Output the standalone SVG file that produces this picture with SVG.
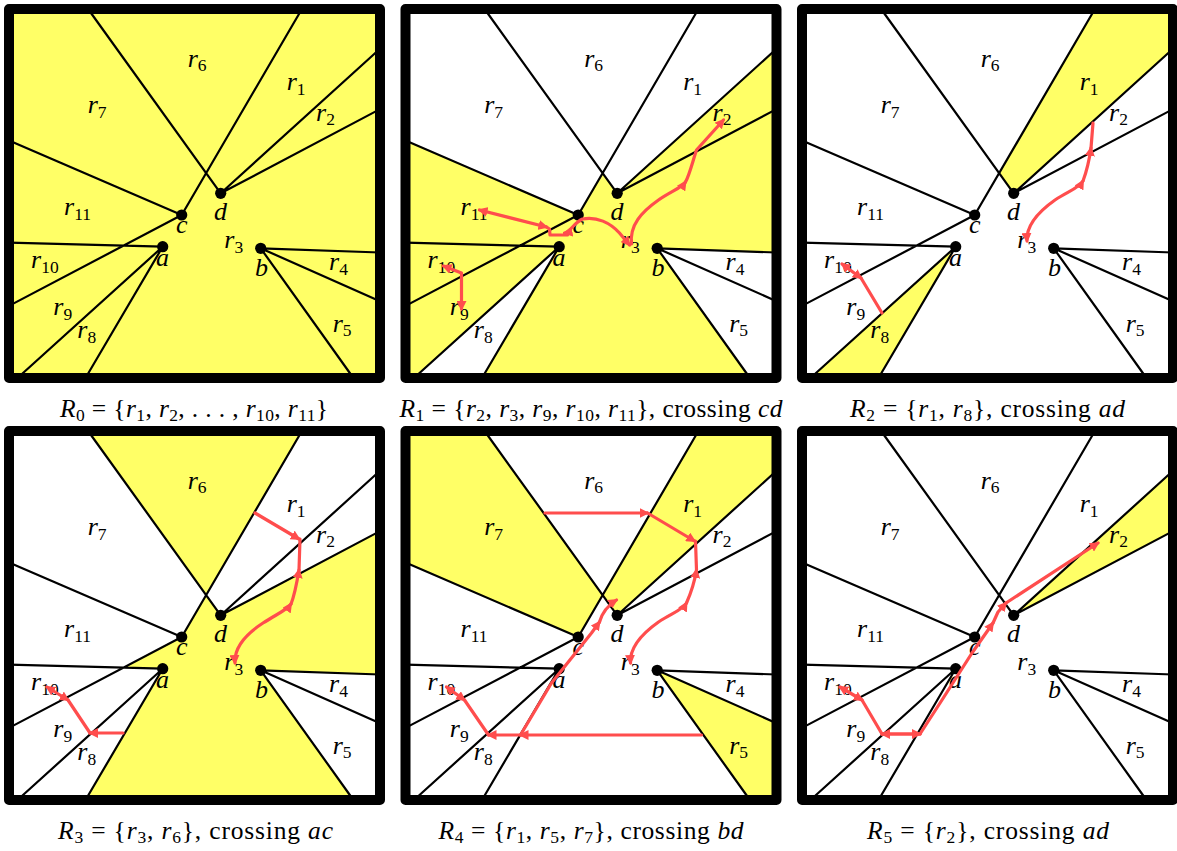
<svg xmlns="http://www.w3.org/2000/svg" width="1177" height="851" viewBox="0 0 1177 851">
<defs>
<style>
.ln{fill:none;stroke:#000;stroke-width:2.2;stroke-linecap:butt}
.fr{fill:none;stroke:#000;stroke-width:10;stroke-linejoin:round}
.y{fill:#ffff66;stroke:#ffff66;stroke-width:0.6}
.rd{fill:none;stroke:#ff4d4d;stroke-width:3.2;stroke-linejoin:round;stroke-linecap:round}
.e{marker-end:url(#ah)}
.se{marker-start:url(#ah);marker-end:url(#ah)}
.m{font-family:"Liberation Serif","DejaVu Serif",serif;font-style:italic;font-size:26px;fill:#000}
.s{font-style:normal;font-size:17.5px}
.cap{font-family:"Liberation Serif","DejaVu Serif",serif;font-size:25.5px;fill:#000}
.i{font-style:italic}
</style>
<marker id="ah" viewBox="0 0 10 10" refX="8" refY="5" markerWidth="10" markerHeight="10" markerUnits="userSpaceOnUse" orient="auto-start-reverse"><path d="M0,0 L10,5 L0,10 z" fill="#ff4d4d"/></marker>
<path id="r1" d="M301.9,9 L380,9 L380,48.8 L220.7,193.3 L206.2,173.1 Z"/>
<path id="r2" d="M220.7,193.3 L380,48.8 L380,109.1 Z"/>
<path id="r3" d="M181.7,215 L206.2,173.1 L220.7,193.3 L380,109.1 L380,252.5 L260.7,248.3 L353.4,378 L85.5,378 L162.7,246.7 L123.4,245.6 Z"/>
<path id="r5" d="M260.7,248.3 L380,301.2 L380,378 L353.4,378 Z"/>
<path id="r6" d="M88.1,9 L301.9,9 L206.2,173.1 Z"/>
<path id="r7" d="M9,9 L88.1,9 L206.2,173.1 L181.7,215 L9,140.5 Z"/>
<path id="r8" d="M162.7,246.7 L85.5,378 L17.5,378 Z"/>
<path id="r9" d="M9,305.9 L123.4,245.6 L162.7,246.7 L17.5,378 L9,378 Z"/>
<path id="r10" d="M9,242.6 L123.4,245.6 L9,305.9 Z"/>
<path id="r11" d="M9,140.5 L181.7,215 L123.4,245.6 L9,242.6 Z"/>
<g id="lines">
<path class="ln" d="M220.7,193.3 L88.1,9 M181.7,215 L301.9,9 M220.7,193.3 L380,48.8 M220.7,193.3 L380,109.1 M181.7,215 L9,140.5 M181.7,215 L9,305.9 M162.7,246.7 L9,242.6 M162.7,246.7 L17.5,378 M162.7,246.7 L85.5,378 M260.7,248.3 L380,252.5 M260.7,248.3 L380,301.2 M260.7,248.3 L353.4,378"/>
<circle cx="220.7" cy="193.3" r="5.6"/>
<circle cx="181.7" cy="215" r="5.6"/>
<circle cx="162.7" cy="246.7" r="5.6"/>
<circle cx="260.7" cy="248.3" r="5.6"/>
</g>
<g id="labels" class="m">
<text x="187.7" y="66.7">r<tspan class="s" dy="4.5">6</tspan></text>
<text x="286.7" y="90">r<tspan class="s" dy="4.5">1</tspan></text>
<text x="316" y="120.7">r<tspan class="s" dy="4.5">2</tspan></text>
<text x="87.7" y="113.3">r<tspan class="s" dy="4.5">7</tspan></text>
<text x="64" y="215">r<tspan class="s" dy="4.5">11</tspan></text>
<text x="224.3" y="248.3">r<tspan class="s" dy="4.5">3</tspan></text>
<text x="31" y="268.3">r<tspan class="s" dy="4.5">10</tspan></text>
<text x="329" y="270">r<tspan class="s" dy="4.5">4</tspan></text>
<text x="53.3" y="315">r<tspan class="s" dy="4.5">9</tspan></text>
<text x="77.3" y="338.3">r<tspan class="s" dy="4.5">8</tspan></text>
<text x="332.7" y="331.7">r<tspan class="s" dy="4.5">5</tspan></text>
<text x="214" y="220">d</text>
<text x="176" y="233.3">c</text>
<text x="156" y="266">a</text>
<text x="255" y="276">b</text>
</g>
<rect id="frame" class="fr" x="9" y="9" width="371" height="369"/>
</defs>
<rect x="0" y="0" width="1177" height="851" fill="#fff"/>

<g id="panel-R0">
<rect class="y" x="9" y="9" width="371" height="369"/>
<use href="#lines"/>
<use href="#labels"/>
<use href="#frame"/>
<text class="cap" x="60" y="416.5" textLength="268" lengthAdjust="spacing"><tspan class="i">R</tspan><tspan class="s" dy="4.5">0</tspan><tspan dy="-4.5"> = {</tspan><tspan class="i">r</tspan><tspan class="s" dy="4.5">1</tspan><tspan dy="-4.5">, </tspan><tspan class="i">r</tspan><tspan class="s" dy="4.5">2</tspan><tspan dy="-4.5">, . . . , </tspan><tspan class="i">r</tspan><tspan class="s" dy="4.5">10</tspan><tspan dy="-4.5">, </tspan><tspan class="i">r</tspan><tspan class="s" dy="4.5">11</tspan><tspan dy="-4.5">}</tspan></text>
</g>

<g id="panel-R1" transform="translate(396.5,0)">
<use class="y" href="#r2"/><use class="y" href="#r3"/><use class="y" href="#r9"/><use class="y" href="#r10"/><use class="y" href="#r11"/>
<use href="#lines"/>
<use href="#labels"/>
<g id="paths-R1" class="rd">
<path class="se" d="M47,266 L65,273 L65,309"/>
<path class="se" d="M83,210 L150,227"/>
<path d="M150,227 L153,229 L153.5,235 L171,235"/>
<path class="se" d="M168,233 C174,232 177,223 186,219 C200,216 214,223 223,233 L233,245"/>
<path class="e" d="M235,244 C233,225 245,212 262,200 C275,191 285,188 289,182"/>
<path class="e" d="M289,182 C293,175 296,162 300,150 L327,120"/>
</g>
<use href="#frame"/>
<text class="cap" x="3" y="416.5" textLength="383" lengthAdjust="spacing"><tspan class="i">R</tspan><tspan class="s" dy="4.5">1</tspan><tspan dy="-4.5"> = {</tspan><tspan class="i">r</tspan><tspan class="s" dy="4.5">2</tspan><tspan dy="-4.5">, </tspan><tspan class="i">r</tspan><tspan class="s" dy="4.5">3</tspan><tspan dy="-4.5">, </tspan><tspan class="i">r</tspan><tspan class="s" dy="4.5">9</tspan><tspan dy="-4.5">, </tspan><tspan class="i">r</tspan><tspan class="s" dy="4.5">10</tspan><tspan dy="-4.5">, </tspan><tspan class="i">r</tspan><tspan class="s" dy="4.5">11</tspan><tspan dy="-4.5">}, crossing </tspan><tspan class="i">cd</tspan></text>
</g>

<g id="panel-R2" transform="translate(793,0)">
<use class="y" href="#r1"/><use class="y" href="#r8"/>
<use href="#lines"/>
<use href="#labels"/>
<g id="paths-R2" class="rd">
<path class="se" d="M234,241 C233,225 245,212 262,200 C276,191 286,188 290,181"/>
<path class="e" d="M290,181 C293,173 296,162 298,148"/>
<path d="M298,148 L300,123"/>
<path class="se" d="M49,264 L68,278"/>
<path d="M68,278 L89,313"/>
</g>
<use href="#frame"/>
<text class="cap" x="57" y="416.5" textLength="275" lengthAdjust="spacing"><tspan class="i">R</tspan><tspan class="s" dy="4.5">2</tspan><tspan dy="-4.5"> = {</tspan><tspan class="i">r</tspan><tspan class="s" dy="4.5">1</tspan><tspan dy="-4.5">, </tspan><tspan class="i">r</tspan><tspan class="s" dy="4.5">8</tspan><tspan dy="-4.5">}, crossing </tspan><tspan class="i">ad</tspan></text>
</g>

<g id="panel-R3" transform="translate(0,422)">
<use class="y" href="#r3"/><use class="y" href="#r6"/>
<use href="#lines"/>
<use href="#labels"/>
<g id="paths-R3" class="rd">
<path class="se" d="M235,241 C234,225 246,212 263,201 C277,192 287,188 291,182"/>
<path class="e" d="M291,182 C295,172 297,160 299,148"/>
<path d="M299,148 L300,117"/>
<path class="e" d="M255,91 L299,117"/>
<path class="se" d="M47,265 L68,278"/>
<path d="M68,278 L90,311"/>
<path class="e" d="M123,311 L90,311"/>
</g>
<use href="#frame"/>
<text class="cap" x="58" y="416.5" textLength="275" lengthAdjust="spacing"><tspan class="i">R</tspan><tspan class="s" dy="4.5">3</tspan><tspan dy="-4.5"> = {</tspan><tspan class="i">r</tspan><tspan class="s" dy="4.5">3</tspan><tspan dy="-4.5">, </tspan><tspan class="i">r</tspan><tspan class="s" dy="4.5">6</tspan><tspan dy="-4.5">}, crossing </tspan><tspan class="i">ac</tspan></text>
</g>

<g id="panel-R4" transform="translate(396.5,422)">
<use class="y" href="#r1"/><use class="y" href="#r5"/><use class="y" href="#r7"/>
<use href="#lines"/>
<use href="#labels"/>
<g id="paths-R4" class="rd">
<path class="e" d="M148.5,91 L251,91"/>
<path class="e" d="M251,91 L298,119"/>
<path class="se" d="M234,241 C233,225 245,212 262,200 C276,191 286,188 290,181"/>
<path class="e" d="M290,181 C294,172 298,160 300,148"/>
<path d="M300,148 L299,119"/>
<path class="se" d="M50,265 L68,278"/>
<path d="M68,278 L92,313"/>
<path class="e" d="M305,313 L124,313"/>
<path class="e" d="M124,313 L92,313"/>
<path class="e" d="M124,313 L155,261 L195,211 L203,200"/>
<path class="e" d="M203,200 Q207,186 220,178"/>
</g>
<use href="#frame"/>
<text class="cap" x="42" y="416.5" textLength="305" lengthAdjust="spacing"><tspan class="i">R</tspan><tspan class="s" dy="4.5">4</tspan><tspan dy="-4.5"> = {</tspan><tspan class="i">r</tspan><tspan class="s" dy="4.5">1</tspan><tspan dy="-4.5">, </tspan><tspan class="i">r</tspan><tspan class="s" dy="4.5">5</tspan><tspan dy="-4.5">, </tspan><tspan class="i">r</tspan><tspan class="s" dy="4.5">7</tspan><tspan dy="-4.5">}, crossing </tspan><tspan class="i">bd</tspan></text>
</g>

<g id="panel-R5" transform="translate(793,422)">
<use class="y" href="#r2"/>
<use href="#lines"/>
<use href="#labels"/>
<g id="paths-R5" class="rd">
<path class="se" d="M47,265 L69,278"/>
<path d="M69,278 L89,312"/>
<path class="e" d="M127,312 L89,312"/>
<path class="e" d="M89,312 L127,312"/>
<path class="e" d="M127,312 L149,278 L179,231 L200,201"/>
<path class="e" d="M200,201 L205,190 L213,181"/>
<path class="e" d="M213,181 L305,121"/>
</g>
<use href="#frame"/>
<text class="cap" x="74" y="416.5" textLength="242" lengthAdjust="spacing"><tspan class="i">R</tspan><tspan class="s" dy="4.5">5</tspan><tspan dy="-4.5"> = {</tspan><tspan class="i">r</tspan><tspan class="s" dy="4.5">2</tspan><tspan dy="-4.5">}, crossing </tspan><tspan class="i">ad</tspan></text>
</g>
</svg>
